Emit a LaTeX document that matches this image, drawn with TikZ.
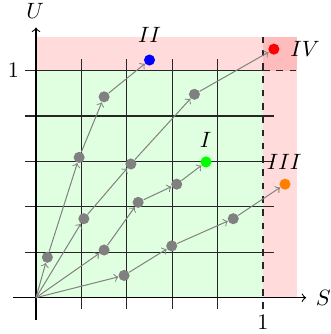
\documentclass[tikz,border=0pt]{standalone}
\begin{document}
\begin{tikzpicture}[x=3.6cm,y=3.6cm,
  gridline/.style={black!85,line width=0.55pt},
  axisline/.style={black,line width=0.5pt,->},
  arr/.style={gray,line width=0.45pt,->},
  gdot/.style={circle,fill=gray,inner sep=0pt,minimum size=5pt},
  cdot/.style={circle,fill=#1,inner sep=0pt,minimum size=5pt},
  lab/.style={inner sep=0pt}]
\useasboundingbox (-0.1586,-0.16) rectangle (1.2996,1.3115);
% regions
\fill[green!12] (0,0) rectangle (1,1);
\fill[red,opacity=0.14] (0,1) rectangle (1.15,1.15);
\fill[red,opacity=0.14] (1,0) rectangle (1.15,1.15);
% grid
\foreach \v in {0.2,0.4,0.6,0.8}{
  \draw[gridline] (\v,-0.05) -- (\v,1.05);
  \draw[gridline] (-0.05,\v) -- (1.05,\v);
}
\draw[gridline] (-0.05,1) -- (1,1);
\draw[gridline,dashed] (1,1) -- (1.15,1);
\draw[gridline,dashed] (1,-0.05) -- (1,1.15);
% axes
\coordinate (xs) at (-0.1,0);
\coordinate (xe) at (1.19,0);
\coordinate (ys) at (0,-0.1);
\coordinate (ye) at (0,1.19);
\draw[axisline] (xs) -- (xe);
\draw[axisline] (ys) -- (ye);
\node[lab] (Slab) at (1.266,0) {$S$};
\node[lab] (Ulab) at (-0.004,1.262) {$U$};
\node[lab] (one-y) at (-0.10,1.0) {$1$};
\node[lab] (one-x) at (1.0,-0.108) {$1$};
% points
\coordinate (o) at (0,0);
\node[gdot] (a1) at (0.05,0.178) {};
\node[gdot] (a2) at (0.19,0.618) {};
\node[gdot] (a3) at (0.30,0.885) {};
\node[cdot=blue] (a4) at (0.50,1.047) {};
\node[gdot] (b1) at (0.211,0.348) {};
\node[gdot] (b2) at (0.418,0.589) {};
\node[gdot] (b3) at (0.698,0.896) {};
\node[cdot=red] (b4) at (1.048,1.095) {};
\node[gdot] (c1) at (0.30,0.21) {};
\node[gdot] (c2) at (0.45,0.42) {};
\node[gdot] (c3) at (0.62,0.50) {};
\node[cdot=green] (c4) at (0.749,0.598) {};
\node[gdot] (d1) at (0.388,0.098) {};
\node[gdot] (d2) at (0.598,0.228) {};
\node[gdot] (d3) at (0.869,0.348) {};
\node[cdot=orange] (d4) at (1.097,0.50) {};
% arrows
\draw[arr] (o) -- (a1); \draw[arr] (a1) -- (a2); \draw[arr] (a2) -- (a3); \draw[arr] (a3) -- (a4);
\draw[arr] (o) -- (b1); \draw[arr] (b1) -- (b2); \draw[arr] (b2) -- (b3); \draw[arr] (b3) -- (b4);
\draw[arr] (o) -- (c1); \draw[arr] (c1) -- (c2); \draw[arr] (c2) -- (c3); \draw[arr] (c3) -- (c4);
\draw[arr] (o) -- (d1); \draw[arr] (d1) -- (d2); \draw[arr] (d2) -- (d3); \draw[arr] (d3) -- (d4);
% labels
\node[lab] (lII) at (0.50,1.157) {$II$};
\node[lab] (lIV) at (1.185,1.094) {$IV$};
\node[lab] (lI) at (0.747,0.697) {$I$};
\node[lab] (lIII) at (1.093,0.596) {$III$};
\end{tikzpicture}
\end{document}
